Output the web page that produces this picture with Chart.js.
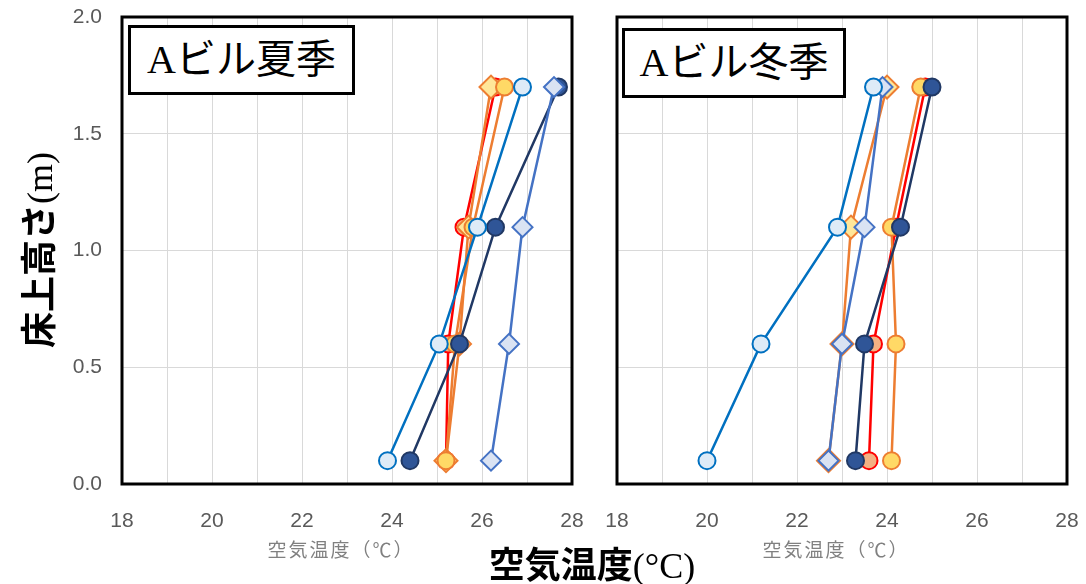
<!DOCTYPE html>
<html><head><meta charset="utf-8">
<script src="https://cdn.jsdelivr.net/npm/chart.js@4/dist/chart.umd.min.js"></script>
<style>
html,body{margin:0;padding:0;background:#fff;}
body{width:1086px;height:584px;position:relative;overflow:hidden;font-family:"Liberation Sans",Arial,sans-serif;}
canvas{position:absolute;top:0;}
.tbox{position:absolute;border:3px solid #000;background:#fff;box-sizing:border-box;display:flex;align-items:center;justify-content:center;font-size:40px;font-family:"Liberation Serif","Noto Sans CJK JP",serif;color:#000;line-height:1;white-space:nowrap;}
.sub{position:absolute;transform:translate(-50%,-50%);font-family:"Noto Sans CJK JP",sans-serif;font-size:19px;color:#808080;white-space:nowrap;letter-spacing:2px;}
.big{position:absolute;transform:translate(-50%,-50%);white-space:nowrap;color:#000;font-weight:bold;line-height:1;}
.cjk{font-family:"Noto Sans CJK JP",sans-serif;}
.ser{font-family:"Liberation Serif",serif;font-weight:normal;}
</style>
</head><body>
<canvas id="c1" width="592" height="584" style="left:0;width:592px;height:584px"></canvas>
<canvas id="c2" width="494" height="584" style="left:592px;width:494px;height:584px"></canvas>
<div class="tbox" style="left:128px;top:25px;width:227px;height:70px">Aビル夏季</div>
<div class="tbox" style="left:622px;top:28px;width:224px;height:70px">Aビル冬季</div>
<div class="sub" style="left:341px;top:548px">空気温度（℃）</div>
<div class="sub" style="left:836px;top:548px">空気温度（℃）</div>
<div class="big" style="left:592px;top:564px;font-size:36px"><span class="cjk">空気温度</span><span class="ser">(°C)</span></div>
<div class="big" style="left:38px;top:250px;font-size:36px;transform:translate(-50%,-50%) rotate(-90deg)"><span class="cjk">床上高さ</span><span class="ser">(m)</span></div>
<script>
// ---- data ----
const heights = [0.1, 0.6, 1.1, 1.7];
const xTickValues = [18, 20, 22, 24, 26, 28];
const yTickValues = [0.0, 0.5, 1.0, 1.5, 2.0];

// summer (夏季)
const summerRed      = [25.2, 25.25, 25.6, 26.3];
const summerOrangeDia= [25.2, 25.5, 25.7, 26.2];
const summerYellow   = [25.2, 25.4, 25.8, 26.5];
const summerLightBlue= [23.9, 25.05, 25.9, 26.9];
const summerNavy     = [24.4, 25.5, 26.3, 27.7];
const summerBlueDia  = [26.2, 26.6, 26.9, 27.6];

// winter (冬季)
const winterRed      = [23.6, 23.7, 24.2, 24.85];
const winterOrangeDia= [22.7, 23.0, 23.2, 24.0];
const winterYellow   = [24.1, 24.2, 24.1, 24.75];
const winterLightBlue= [20.0, 21.2, 22.9, 23.7];
const winterNavy     = [23.3, 23.5, 24.3, 25.0];
const winterBlueDia  = [22.7, 23.0, 23.5, 23.9];

// ---- styles ----
const styles = [
  {line:'#FF0000', fill:'#F4B183', border:'#FF0000', shape:'circle', r:8.5, order:6},
  {line:'#ED7D31', fill:'#FFE699', border:'#ED7D31', shape:'rectRot', r:11.5, order:5},
  {line:'#ED7D31', fill:'#FFD966', border:'#ED7D31', shape:'circle', r:8.5, order:4},
  {line:'#0070C0', fill:'#DEEBF7', border:'#0070C0', shape:'circle', r:8.5, order:1},
  {line:'#203864', fill:'#2F5597', border:'#203864', shape:'circle', r:8.5, order:3},
  {line:'#4472C4', fill:'#DAE3F3', border:'#4472C4', shape:'rectRot', r:10, order:2}
];

function buildDatasets(seriesList){
  return seriesList.map((vals, i) => {
    const s = styles[i];
    return {
      data: vals.map((v, k) => ({x: v, y: heights[k]})),
      showLine: true,
      borderColor: s.line,
      borderWidth: 2.5,
      pointStyle: s.shape,
      pointRadius: s.r,
      pointBackgroundColor: s.fill,
      pointBorderColor: s.border,
      pointBorderWidth: 2,
      order: s.order,
      tension: 0
    };
  });
}

const frame = {
  id: 'frame',
  afterDraw(chart){
    const {ctx, chartArea: a} = chart;
    ctx.save();
    ctx.strokeStyle = '#000';
    ctx.lineWidth = 3;
    ctx.strokeRect(a.left, a.top, a.right - a.left, a.bottom - a.top);
    ctx.restore();
  }
};

function makeChart(id, seriesList, showY, yWidth, pad){
  return new Chart(document.getElementById(id), {
    type: 'scatter',
    data: { datasets: buildDatasets(seriesList) },
    options: {
      responsive: false,
      animation: false,
      events: [],
      layout: { padding: pad },
      plugins: { legend: {display: false}, tooltip: {enabled: false} },
      scales: {
        x: {
          type: 'linear', min: xTickValues[0], max: xTickValues[xTickValues.length-1],
          afterBuildTicks: s => {
            const t = [];
            for (let v = xTickValues[0]; v <= xTickValues[xTickValues.length-1]; v++) t.push({value: v});
            s.ticks = t;
          },
          ticks: {
            autoSkip: false, maxRotation: 0, color: '#595959', padding: 25,
            font: {family: '"Liberation Sans", Arial', size: 21},
            callback: v => xTickValues.includes(v) ? String(v) : ''
          },
          grid: {color: '#D9D9D9', lineWidth: 1, drawTicks: false},
          border: {display: false},
          afterFit: s => { s.height = 100; s.paddingLeft = 0; s.paddingRight = 0; }
        },
        y: {
          type: 'linear', min: 0, max: 2,
          afterBuildTicks: s => { s.ticks = yTickValues.map(v => ({value: v})); },
          ticks: {
            display: showY, color: '#595959', padding: 20,
            font: {family: '"Liberation Sans", Arial', size: 21},
            callback: v => v.toFixed(1)
          },
          grid: {color: '#D9D9D9', lineWidth: 1, drawTicks: false},
          border: {display: false},
          afterFit: s => { s.width = yWidth; s.paddingTop = 0; s.paddingBottom = 0; }
        }
      }
    },
    plugins: [frame]
  });
}

const c1 = makeChart('c1', [summerRed, summerOrangeDia, summerYellow, summerLightBlue, summerNavy, summerBlueDia], true, 122, {top: 17, right: 20, left: 0, bottom: 0});
const c2 = makeChart('c2', [winterRed, winterOrangeDia, winterYellow, winterLightBlue, winterNavy, winterBlueDia], false, 25, {top: 17, right: 19, left: 0, bottom: 0});
</script>
</body></html>
